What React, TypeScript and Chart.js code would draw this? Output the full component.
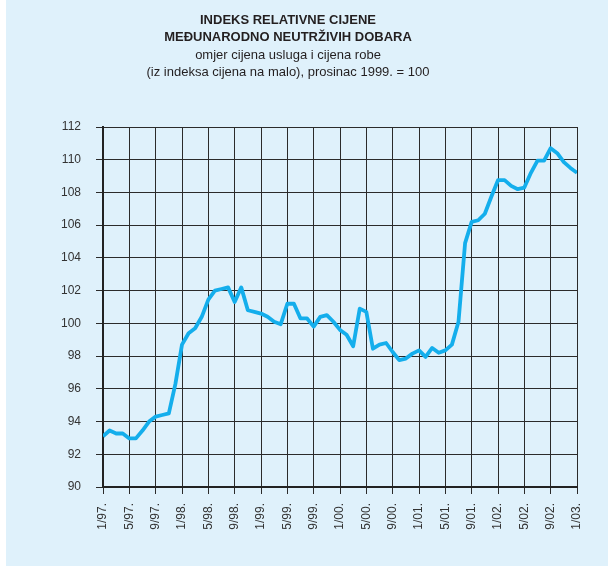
import React, { useEffect, useRef } from "react";
import { Chart, registerables } from "chart.js";

Chart.register(...registerables);

const titleLines = ["INDEKS RELATIVNE CIJENE", "MEĐUNARODNO NEUTRŽIVIH DOBARA"];
const subtitleLines = ["omjer cijena usluga i cijena robe", "(iz indeksa cijena na malo), prosinac 1999. = 100"];

// tick labels every 4 months, 1/97 .. 1/03
const tickLabels = [
  "1/97.", "5/97.", "9/97.", "1/98.", "5/98.", "9/98.", "1/99.", "5/99.", "9/99.", "1/00.",
  "5/00.", "9/00.", "1/01.", "5/01.", "9/01.", "1/02.", "5/02.", "9/02.", "1/03.",
];

// monthly index values, 1/97 .. 1/03
const values = [
  93.1, 93.45, 93.27, 93.27, 92.97, 92.97, 93.45, 94.0, 94.3, 94.4, 94.5, 96.3,
  98.7, 99.4, 99.7, 100.4, 101.45, 102.0, 102.1, 102.2, 101.3, 102.2, 100.8, 100.7,
  100.6, 100.4, 100.1, 99.95, 101.2, 101.2, 100.3, 100.3, 99.8, 100.4, 100.5, 100.1,
  99.6, 99.3, 98.6, 100.9, 100.7, 98.45, 98.7, 98.8, 98.25, 97.75, 97.85, 98.15,
  98.35, 97.95, 98.5, 98.2, 98.35, 98.7, 100.1, 104.9, 106.2, 106.3, 106.7, 107.75,
  108.75, 108.75, 108.4, 108.2, 108.3, 109.2, 109.95, 109.95, 110.7, 110.4, 109.85, 109.5,
  109.2,
];

const MONTHS_PER_TICK = 4;

export default function App() {
  const ref = useRef<HTMLCanvasElement | null>(null);

  useEffect(() => {
    if (!ref.current) return;
    const titlePlugin = {
      id: "titleText",
      afterDraw(chart: any) {
        const ctx = chart.ctx;
        ctx.save();
        ctx.fillStyle = "#231f20";
        ctx.textAlign = "center";
        ctx.textBaseline = "middle";
        const cx = 282;
        ctx.font = "bold 13px 'Liberation Sans', Arial, sans-serif";
        ctx.fillText(titleLines[0], cx, 20);
        ctx.fillText(titleLines[1], cx, 37);
        ctx.font = "13px 'Liberation Sans', Arial, sans-serif";
        ctx.fillText(subtitleLines[0], cx, 55);
        ctx.fillText(subtitleLines[1], cx, 72);
        ctx.restore();
      },
    };

    const chart = new Chart(ref.current, {
      type: "line",
      data: {
        datasets: [
          {
            data: values.map((v, i) => ({ x: i, y: v })),
            borderColor: "#14aeec",
            borderWidth: 3.8,
            pointRadius: 0,
            tension: 0,
            borderJoinStyle: "round",
          },
        ],
      },
      options: {
        responsive: false,
        animation: false,
        layout: { padding: { left: 0, right: 31, top: 127, bottom: 0 } },
        plugins: { legend: { display: false }, title: { display: false }, tooltip: { enabled: false } },
        scales: {
          x: {
            type: "linear",
            min: 0,
            max: (tickLabels.length - 1) * MONTHS_PER_TICK,
            afterFit: (s: any) => {
              s.height = 79;
            },
            afterBuildTicks: (s: any) => {
              s.ticks = tickLabels.map((_, i) => ({ value: i * MONTHS_PER_TICK }));
            },
            ticks: {
              stepSize: MONTHS_PER_TICK,
              autoSkip: false,
              maxRotation: 90,
              minRotation: 90,
              padding: 9,
              color: "#333",
              font: { family: "'Liberation Sans', Arial, sans-serif", size: 12 },
              callback: (v: any) => tickLabels[Math.round(Number(v) / MONTHS_PER_TICK)],
            },
            grid: { color: "#2b2b2b", lineWidth: 1, tickLength: 7 },
            border: { color: "#222", width: 2 },
          },
          y: {
            min: 90,
            max: 112,
            afterFit: (s: any) => {
              s.width = 97;
            },
            ticks: {
              stepSize: 2,
              padding: 15,
              color: "#333",
              font: { family: "'Liberation Sans', Arial, sans-serif", size: 12 },
            },
            grid: { color: "#2b2b2b", lineWidth: 1, tickLength: 7 },
            border: { color: "#222", width: 2 },
          },
        },
      },
      plugins: [titlePlugin],
    } as any);
    return () => chart.destroy();
  }, []);

  return (
    <div
      style={{
        position: "absolute",
        left: 6,
        top: 0,
        width: 602,
        height: 566,
        background: "#dff1fb",
      }}
    >
      <canvas ref={ref} width={602} height={566} style={{ display: "block" }} />
    </div>
  );
}
